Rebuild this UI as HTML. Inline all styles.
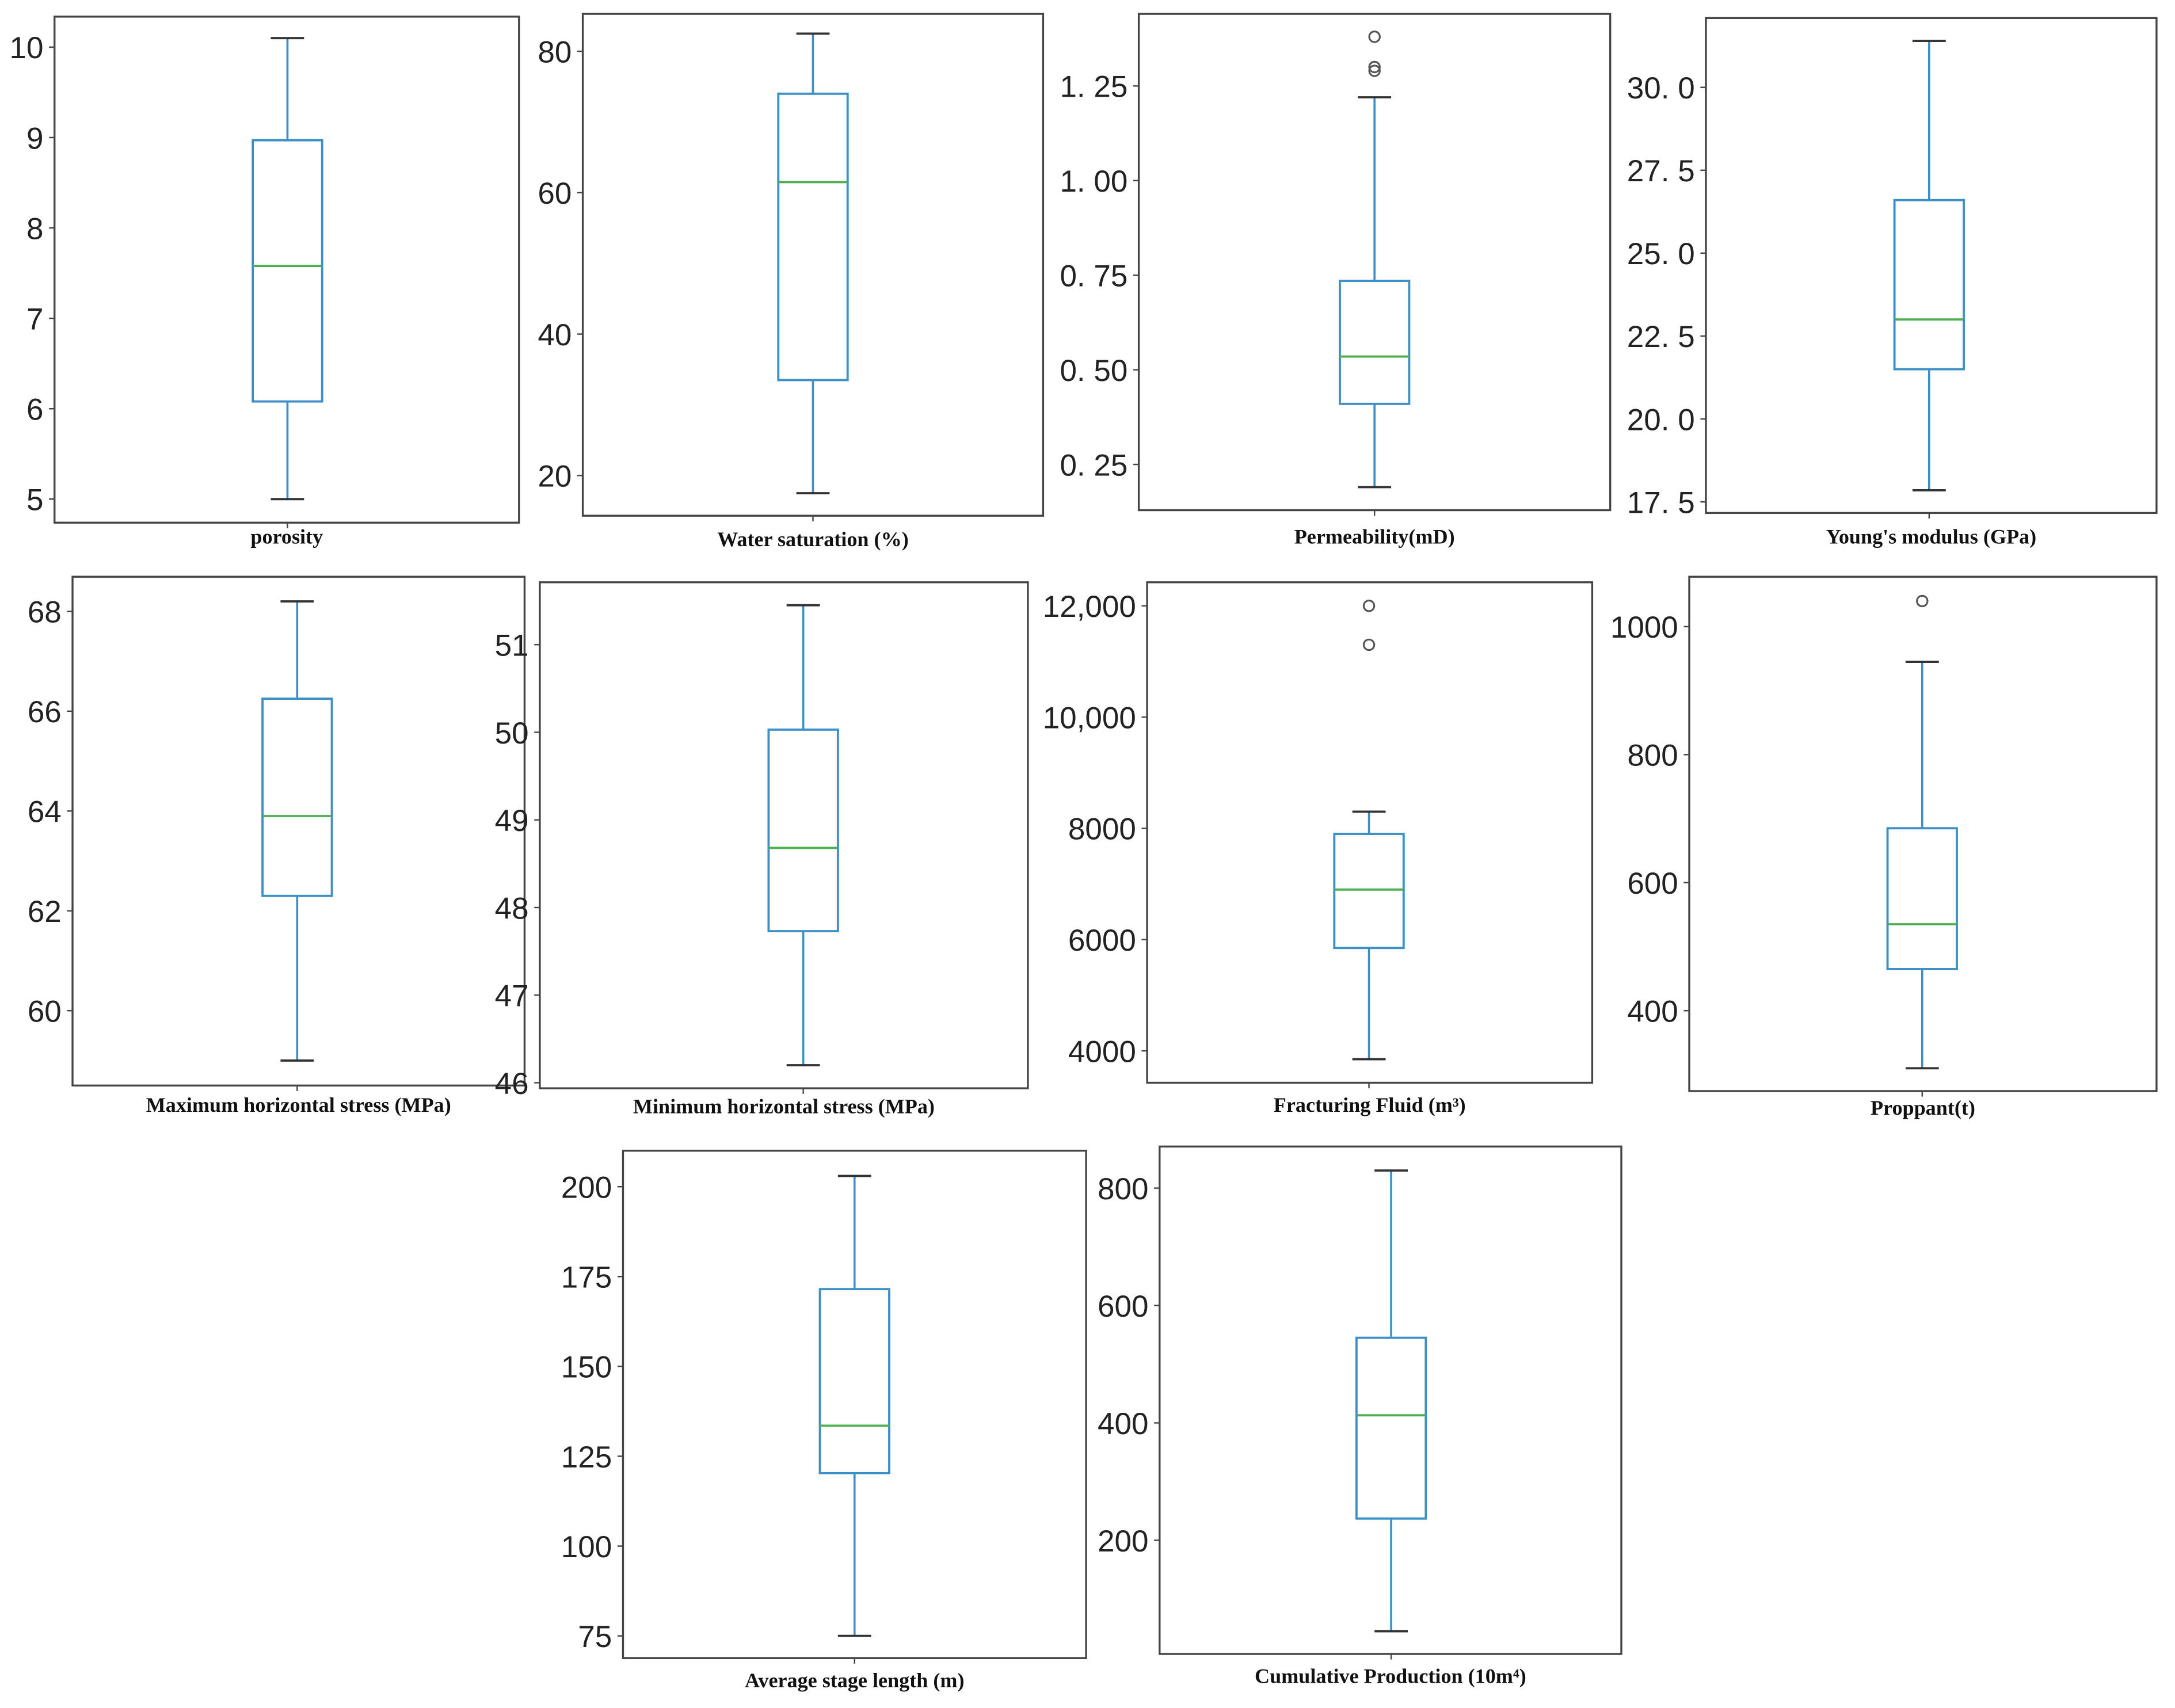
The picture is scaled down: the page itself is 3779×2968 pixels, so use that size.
<!DOCTYPE html>
<html><head><meta charset="utf-8"><style>
html,body{margin:0;padding:0;background:#fff}
svg{display:block}
</style></head><body>
<svg id="chart" width="3779" height="2968" viewBox="0 0 1568 1232" xmlns="http://www.w3.org/2000/svg"></svg>
<script>
// Panel data
const titles = ["porosity","Water saturation (%)","Permeability(mD)","Young's modulus (GPa)","Maximum horizontal stress (MPa)","Minimum horizontal stress (MPa)","Fracturing Fluid (m\u00B3)","Proppant(t)","Average stage length (m)","Cumulative Production (10m\u2074)"];
const whiskerLow  = [5.0, 17.5, 0.19, 17.85, 59.0, 46.2, 3850, 310, 75, 45];
const q1Values    = [6.08, 33.5, 0.41, 21.5, 62.3, 47.73, 5850, 465, 120.3, 237];
const medians     = [7.58, 61.5, 0.535, 23.0, 63.9, 48.68, 6900, 535, 133.5, 413];
const q3Values    = [8.97, 74, 0.735, 26.6, 66.25, 50.03, 7900, 685, 171.5, 545];
const whiskerHigh = [10.1, 82.5, 1.22, 31.4, 68.2, 51.45, 8300, 945, 203, 830];
const outliers    = [[], [], [1.38, 1.30, 1.29], [], [], [], [12000, 11300], [1040], [], []];
const tickValues  = [[5,6,7,8,9,10],[20,40,60,80],[0.25,0.5,0.75,1.0,1.25],[17.5,20,22.5,25,27.5,30],[60,62,64,66,68],[46,47,48,49,50,51],[4000,6000,8000,10000,12000],[400,600,800,1000],[75,100,125,150,175,200],[200,400,600,800]];
const tickLabels  = [["5","6","7","8","9","10"],["20","40","60","80"],["0. 25","0. 50","0. 75","1. 00","1. 25"],["17. 5","20. 0","22. 5","25. 0","27. 5","30. 0"],["60","62","64","66","68"],["46","47","48","49","50","51"],["4000","6000","8000","10,000","12,000"],["400","600","800","1000"],["75","100","125","150","175","200"],["200","400","600","800"]];

// layout (frame box, axis calibration: two reference values with pixel y)
const layout = [
 {x0:39,x1:374,y0:12,y1:377,v0:5,p0:360,v1:10,p1:34,cx:207,ly:392},
 {x0:420,x1:752,y0:10,y1:372,v0:20,p0:343,v1:80,p1:37,cx:586,ly:394},
 {x0:821,x1:1161,y0:10,y1:368,v0:0.25,p0:335,v1:1.25,p1:62,cx:991,ly:392},
 {x0:1230,x1:1555,y0:13,y1:370,v0:17.5,p0:362,v1:30,p1:63,cx:1391,ly:392},
 {x0:52,x1:378,y0:416,y1:783,v0:60,p0:729,v1:68,p1:441,cx:214,ly:802},
 {x0:389,x1:741,y0:420,y1:785,v0:46,p0:781,v1:51,p1:465,cx:579,ly:803},
 {x0:827,x1:1148,y0:420,y1:781,v0:4000,p0:758,v1:12000,p1:437,cx:987,ly:802},
 {x0:1218,x1:1555,y0:416,y1:787,v0:400,p0:729,v1:1000,p1:452,cx:1386,ly:804},
 {x0:449,x1:783,y0:830,y1:1196,v0:75,p0:1180,v1:200,p1:856,cx:616,ly:1217},
 {x0:836,x1:1169,y0:827,y1:1193,v0:200,p0:1111,v1:800,p1:857,cx:1003,ly:1214}
];
const svg = document.getElementById('chart');
const NS = 'http://www.w3.org/2000/svg';
function mk(tag, attrs, parent){
  const e = document.createElementNS(NS, tag);
  for (const k in attrs) e.setAttribute(k, attrs[k]);
  parent.appendChild(e); return e;
}
const BLUE = '#3d8fc8', GREEN = '#4caf50', DARK = '#333';
titles.forEach((t, i) => {
  const L = layout[i];
  const y = v => L.p0 + (v - L.v0) * (L.p1 - L.p0) / (L.v1 - L.v0);
  const g = mk('g', {}, svg);
  
  
  const fr = mk('rect', {x:L.x0, y:L.y0, width:L.x1-L.x0, height:L.y1-L.y0, fill:'none', stroke:'#444', 'stroke-width':1.4}, g);
  
  
  tickValues[i].forEach((tv, j) => {
    const ty = y(tv);
    const tk = mk('line', {x1:L.x0-4, x2:L.x0, y1:ty, y2:ty, stroke:'#444', 'stroke-width':1}, g);
    
    
    const tl = mk('text', {x:L.x0-8, y:ty+8, 'text-anchor':'end', 'font-family':'Liberation Sans, sans-serif', 'font-size':22, fill:'#222'}, g);
    tl.textContent = tickLabels[i][j];
    
    
  });
  const bt = mk('line', {x1:L.cx, x2:L.cx, y1:L.y1, y2:L.y1+4, stroke:'#444', 'stroke-width':1}, g);
  
  
  const hw = 25;
  const w1 = mk('line', {x1:L.cx, x2:L.cx, y1:y(whiskerHigh[i]), y2:y(q3Values[i]), stroke:BLUE, 'stroke-width':1.5}, g);
  
  
  const w2 = mk('line', {x1:L.cx, x2:L.cx, y1:y(q1Values[i]), y2:y(whiskerLow[i]), stroke:BLUE, 'stroke-width':1.5}, g);
  
  
  const c1 = mk('line', {x1:L.cx-12, x2:L.cx+12, y1:y(whiskerHigh[i]), y2:y(whiskerHigh[i]), stroke:DARK, 'stroke-width':1.6}, g);
  
  
  const c2 = mk('line', {x1:L.cx-12, x2:L.cx+12, y1:y(whiskerLow[i]), y2:y(whiskerLow[i]), stroke:DARK, 'stroke-width':1.6}, g);
  
  
  const bx = mk('rect', {x:L.cx-hw, y:y(q3Values[i]), width:2*hw, height:y(q1Values[i])-y(q3Values[i]), fill:'none', stroke:BLUE, 'stroke-width':1.6}, g);
  
  
  const md = mk('line', {x1:L.cx-hw, x2:L.cx+hw, y1:y(medians[i]), y2:y(medians[i]), stroke:GREEN, 'stroke-width':1.6}, g);
  
  
  outliers[i].forEach(o => {
    const oc = mk('circle', {cx:L.cx, cy:y(o), r:3.8, fill:'none', stroke:'#555', 'stroke-width':1.3}, g);
    
    
  });
  const xl = mk('text', {x:(L.x0+L.x1)/2, y:L.ly, 'text-anchor':'middle', 'font-family':'Liberation Serif, serif', 'font-weight':'bold', 'font-size':15, fill:'#111'}, g);
  xl.textContent = t;
  
  
});
</script>
</body></html>
